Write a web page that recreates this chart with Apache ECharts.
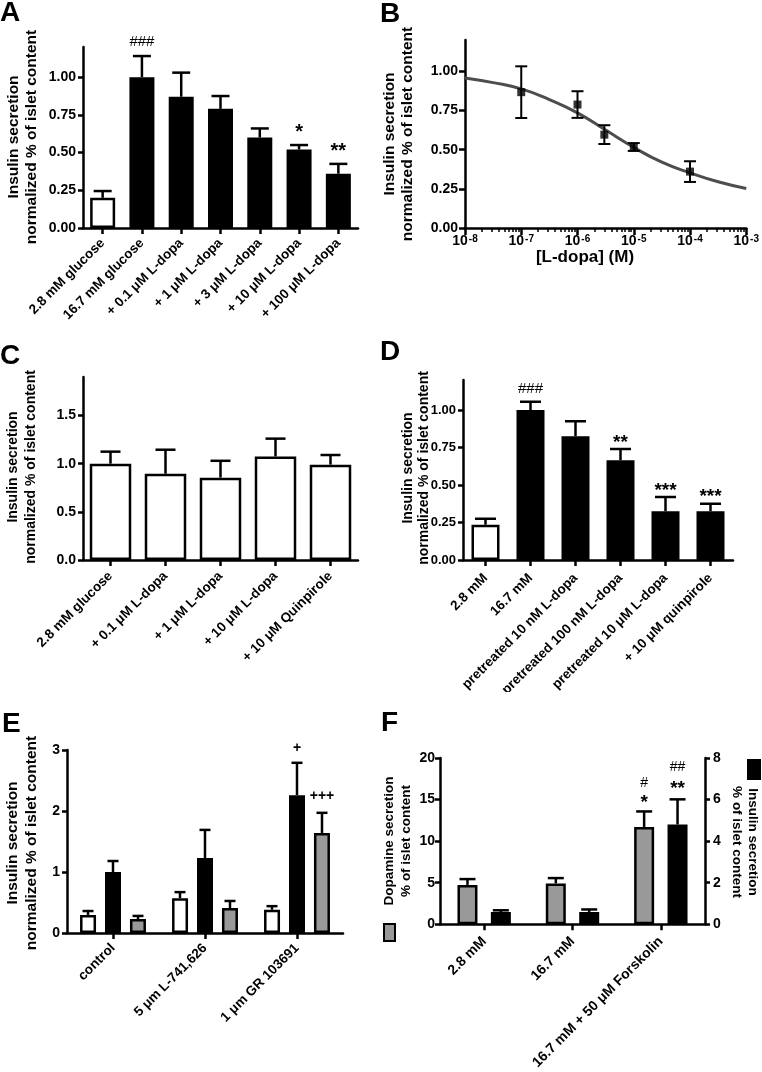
<!DOCTYPE html>
<html><head><meta charset="utf-8">
<script src="https://cdn.jsdelivr.net/npm/echarts@6/dist/echarts.min.js"></script>
<style>html,body{margin:0;padding:0;background:#fff}#c{width:762px;height:1072px}</style>
</head><body><div id="c"></div>
<script>
// ---------------- DATA ----------------
// Panel A
const catsA = ['2.8 mM glucose', '16.7 mM glucose', '+ 0.1 μM L-dopa', '+ 1 μM L-dopa', '+ 3 μM L-dopa', '+ 10 μM L-dopa', '+ 100 μM L-dopa'];
const meansA = [0.20, 1.00, 0.87, 0.79, 0.60, 0.52, 0.36];
const semA = [0.045, 0.14, 0.16, 0.085, 0.06, 0.03, 0.065];
const sigA = ['', '###', '', '', '', '*', '**'];
const ticksA = [0, 0.25, 0.5, 0.75, 1.0];

// Panel B
const concB = [1e-7, 1e-6, 3e-6, 1e-5, 1e-4];
const meansB = [0.867, 0.788, 0.596, 0.517, 0.36];
const semB = [0.165, 0.085, 0.06, 0.025, 0.066];
const fitConcB = [1e-8, 3.16e-8, 1e-7, 3.16e-7, 1e-6, 3.16e-6, 1e-5, 3.16e-5, 1e-4, 3.16e-4, 1e-3];
const fitValB = [0.958, 0.928, 0.888, 0.82, 0.735, 0.625, 0.515, 0.42, 0.352, 0.295, 0.252];
const ticksBy = [0, 0.25, 0.5, 0.75, 1.0];
const ticksBx = [1e-8, 1e-7, 1e-6, 1e-5, 1e-4, 1e-3];

// Panel C
const catsC = ['2.8 mM glucose', '+ 0.1 μM L-dopa', '+ 1 μM L-dopa', '+ 10 μM L-dopa', '+ 10 μM Quinpirole'];
const meansC = [1.00, 0.895, 0.855, 1.075, 0.99];
const semC = [0.125, 0.25, 0.175, 0.185, 0.10];
const ticksC = [0, 0.5, 1.0, 1.5];

// Panel D
const catsD = ['2.8 mM', '16.7 mM', 'pretreated 10 nM L-dopa', 'pretreated 100 nM L-dopa', 'pretreated 10 μM L-dopa', '+ 10 μM quinpirole'];
const meansD = [0.235, 1.00, 0.825, 0.665, 0.325, 0.325];
const semD = [0.04, 0.055, 0.10, 0.075, 0.095, 0.05];
const sigD = ['', '###', '', '**', '***', '***'];
const ticksD = [0, 0.25, 0.5, 0.75, 1.0];

// Panel E
const catsE = ['control', '5 μm L-741,626', '1 μm GR 103691'];
const openE = [0.295, 0.57, 0.38];
const semOpenE = [0.065, 0.10, 0.06];
const blackE = [1.00, 1.23, 2.26];
const semBlackE = [0.18, 0.46, 0.53];
const sigBlackE = ['', '', '+'];
const grayE = [0.23, 0.41, 1.64];
const semGrayE = [0.05, 0.115, 0.33];
const sigGrayE = ['', '', '+++'];
const ticksE = [0, 1, 2, 3];

// Panel F
const catsF = ['2.8 mM', '16.7 mM', '16.7 mM + 50 μM Forskolin'];
const dopF = [4.73, 4.91, 11.7];
const semDopF = [0.7, 0.64, 1.87];
const sigDopF = ['', '', '#\n*'];
const insF = [0.59, 0.59, 4.80];
const semInsF = [0.08, 0.12, 1.21];
const sigInsF = ['', '', '##\n**'];
const ticksFL = [0, 5, 10, 15, 20];
const ticksFR = [0, 2, 4, 6, 8];

// ---------------- STYLE / HELPERS ----------------
const FONT = '"Liberation Sans", Arial, Helvetica, sans-serif';
const BLACK = '#000', WHITE = '#fff', GRAY = '#999';
const LW = 2.5;

function valueAxis(gridIndex, max, ticks, decimals, o) {
  o = o || {};
  return {
    type: 'value', gridIndex: gridIndex, min: 0, max: max, position: o.position || 'left',
    axisLine: { show: true, onZero: false, lineStyle: { color: BLACK, width: LW } },
    axisTick: { show: true, length: o.tickLen || 5, customValues: ticks, lineStyle: { color: BLACK, width: LW } },
    axisLabel: { show: true, customValues: ticks, margin: o.margin || 7, fontSize: o.fs || 14, fontFamily: FONT, fontWeight: 'bold', color: BLACK,
      formatter: function (v) { return Number(v).toFixed(decimals); } },
    splitLine: { show: false }
  };
}
function categoryAxis(gridIndex, cats, o) {
  o = o || {};
  return {
    type: 'category', gridIndex: gridIndex, data: cats, boundaryGap: true,
    axisLine: { show: true, onZero: false, lineStyle: { color: BLACK, width: LW } },
    axisTick: { show: true, alignWithLabel: true, interval: 0, length: o.tickLen || 6, lineStyle: { color: BLACK, width: LW } },
    axisLabel: { interval: 0, rotate: 45, margin: o.margin || 8, fontSize: o.fs || 13, fontFamily: FONT, fontWeight: 'bold', color: BLACK },
    splitLine: { show: false }
  };
}
function barSeries(name, xi, yi, vals, colorFn, barWidth, barGap) {
  return {
    type: 'bar', name: name, xAxisIndex: xi, yAxisIndex: yi, silent: true, animation: false,
    barWidth: barWidth, barGap: barGap,
    data: vals.map(function (v, i) { return { value: v, itemStyle: { color: colorFn(i) } }; }),
    itemStyle: { borderColor: BLACK, borderWidth: LW }
  };
}
// error bars (+ significance marks) placed through the axes' own scales
function errSeries(xi, yi, xs, vals, sems, sigs, o) {
  return {
    type: 'custom', xAxisIndex: xi, yAxisIndex: yi, silent: true, animation: false, z: 5,
    data: vals.map(function (v, i) { return [xs ? xs[i] : i, v, v + sems[i], v - sems[i]]; }),
    renderItem: function (params, api) {
      const i = params.dataIndex;
      const pv = api.coord([api.value(0), api.value(1)]);
      const pt = api.coord([api.value(0), api.value(2)]);
      const x = pv[0] + (o.dx || 0);
      const cw = o.cap / 2;
      const ls = { stroke: BLACK, lineWidth: o.lw || LW };
      const ch = [
        { type: 'line', shape: { x1: x, y1: pv[1], x2: x, y2: pt[1] }, style: ls },
        { type: 'line', shape: { x1: x - cw, y1: pt[1], x2: x + cw, y2: pt[1] }, style: ls }
      ];
      if (o.both) {
        const pb = api.coord([api.value(0), api.value(3)]);
        ch.push({ type: 'line', shape: { x1: x, y1: pv[1], x2: x, y2: pb[1] }, style: ls });
        ch.push({ type: 'line', shape: { x1: x - cw, y1: pb[1], x2: x + cw, y2: pb[1] }, style: ls });
      }
      const s = sigs ? sigs[i] : '';
      if (s) {
        const lines = s.split('\n').reverse();
        lines.forEach(function (ln, k) {
          const star = ln.indexOf('*') >= 0;
          const hash = ln.indexOf('#') >= 0;
          const fs = star ? o.starFs : (hash ? o.hashFs : o.plusFs);
          const gap = star ? o.starGap : (hash ? o.hashGap : o.plusGap);
          const cy = pt[1] - (k === 0 ? gap : o.firstGap + k * o.lineStep);
          ch.push({ type: 'text', x: x, y: cy + (star ? 0.23 * fs : 0), style: {
            text: ln, fill: BLACK, fontFamily: FONT, fontSize: fs, fontWeight: hash ? 'normal' : 'bold',
            align: 'center', verticalAlign: 'middle' } });
        });
      }
      return { type: 'group', children: ch };
    }
  };
}
function rotTitle(text, x, y, fs, lh, rot) {
  return { type: 'text', x: x, y: y, rotation: rot, z: 10, silent: true,
    style: { text: text, fontFamily: FONT, fontWeight: 'bold', fontSize: fs, lineHeight: lh, fill: BLACK, align: 'center', verticalAlign: 'middle' } };
}
function letter(t, x, y) {
  return { type: 'text', x: x, y: y, z: 10, silent: true,
    style: { text: t, fontFamily: FONT, fontWeight: 'bold', fontSize: 28, fill: BLACK, align: 'left', verticalAlign: 'middle' } };
}

const minorB = [];
for (let e = -8; e < -3; e++) { for (let m = 2; m <= 9; m++) { minorB.push(m * Math.pow(10, e)); } }

const TITLE = 'Insulin secretion\nnormalized % of islet content';

const option = {
  animation: false,
  backgroundColor: '#fff',
  grid: [
    { left: 83, top: 47, width: 275, height: 181 },
    { left: 465, top: 40, width: 282, height: 188 },
    { left: 83, top: 377, width: 275, height: 183 },
    { left: 463, top: 380, width: 270, height: 180 },
    { left: 67, top: 750, width: 276, height: 183 },
    { left: 440, top: 758, width: 265, height: 176 }
  ],
  xAxis: [
    categoryAxis(0, catsA, { fs: 13.5, margin: 13 }),
    { type: 'log', gridIndex: 1, min: 1e-8, max: 1e-3, logBase: 10,
      axisLine: { show: true, onZero: false, lineStyle: { color: BLACK, width: LW } },
      axisTick: { show: true, length: 7, customValues: ticksBx, lineStyle: { color: BLACK, width: LW } },
      axisLabel: { customValues: ticksBx, margin: 6, color: BLACK,
        formatter: function (v) { const e = Math.round(Math.log(v) / Math.LN10); return '{b|10}{s|' + e + '}'; },
        rich: { b: { fontSize: 14, fontWeight: 'bold', fontFamily: FONT, color: BLACK },
                s: { fontSize: 10, fontWeight: 'bold', fontFamily: FONT, color: BLACK, verticalAlign: 'top', padding: [0, 0, 0, 1] } } },
      splitLine: { show: false } },
    { type: 'log', gridIndex: 1, min: 1e-8, max: 1e-3, logBase: 10, position: 'bottom',
      axisLine: { show: false }, axisLabel: { show: false }, splitLine: { show: false },
      axisTick: { show: true, length: 4, customValues: minorB, lineStyle: { color: BLACK, width: 1.5 } } },
    categoryAxis(2, catsC, { fs: 13.5, margin: 14 }),
    categoryAxis(3, catsD, { fs: 13.5, margin: 16 }),
    categoryAxis(4, catsE, { fs: 13.5, margin: 13 }),
    categoryAxis(5, catsF, { fs: 14, margin: 15 })
  ],
  yAxis: [
    valueAxis(0, 1.2, ticksA, 2, { fs: 14 }),
    valueAxis(1, 1.2, ticksBy, 2, { fs: 14, tickLen: 6 }),
    valueAxis(2, 1.9, ticksC, 1, { fs: 14 }),
    valueAxis(3, 1.2, ticksD, 2, { fs: 13 }),
    valueAxis(4, 3, ticksE, 0, { fs: 14 }),
    valueAxis(5, 20, ticksFL, 0, { fs: 14, margin: 5 }),
    valueAxis(5, 8, ticksFR, 0, { fs: 14, position: 'right', margin: 8 })
  ],
  series: [
    // A
    barSeries('A', 0, 0, meansA, function (i) { return i === 0 ? WHITE : BLACK; }, 25, '30%'),
    errSeries(0, 0, null, meansA, semA, sigA, { cap: 18, hashFs: 15, hashGap: 14, starFs: 20, starGap: 17.5 }),
    // B
    { type: 'line', name: 'fit', xAxisIndex: 1, yAxisIndex: 1, smooth: 0.5, showSymbol: false, silent: true,
      lineStyle: { color: '#4d4d4d', width: 3 }, data: fitConcB.map(function (x, i) { return [x, fitValB[i]]; }) },
    errSeries(1, 1, concB, meansB, semB, null, { cap: 12, both: true, lw: 2 }),
    { type: 'scatter', name: 'B', xAxisIndex: 1, yAxisIndex: 1, symbol: 'rect', symbolSize: 8, silent: true, z: 6,
      itemStyle: { color: BLACK }, data: concB.map(function (x, i) { return [x, meansB[i]]; }) },
    // C
    barSeries('C', 3, 2, meansC, function () { return WHITE; }, 41.5, '30%'),
    errSeries(3, 2, null, meansC, semC, null, { cap: 20 }),
    // D
    barSeries('D', 4, 3, meansD, function (i) { return i === 0 ? WHITE : BLACK; }, 28, '30%'),
    errSeries(4, 3, null, meansD, semD, sigD, { cap: 21, hashFs: 15, hashGap: 13, starFs: 19, starGap: 11 }),
    // E
    barSeries('E open', 5, 4, openE, function () { return WHITE; }, 16, '56%'),
    barSeries('E black', 5, 4, blackE, function () { return BLACK; }, 16, '56%'),
    barSeries('E gray', 5, 4, grayE, function () { return GRAY; }, 16, '56%'),
    errSeries(5, 4, null, openE, semOpenE, null, { cap: 11, dx: -25 }),
    errSeries(5, 4, null, blackE, semBlackE, sigBlackE, { cap: 11, dx: 0, plusFs: 14, plusGap: 15 }),
    errSeries(5, 4, null, grayE, semGrayE, sigGrayE, { cap: 11, dx: 25, plusFs: 14, plusGap: 17 }),
    // F
    barSeries('Dopamine secretion', 6, 5, dopF, function () { return GRAY; }, 20, '67%'),
    barSeries('Insulin secretion', 6, 6, insF, function () { return BLACK; }, 20, '67%'),
    errSeries(6, 5, null, dopF, semDopF, sigDopF, { cap: 16, dx: -16.7, starFs: 19, starGap: 13, hashFs: 14, hashGap: 13, firstGap: 13, lineStep: 15 }),
    errSeries(6, 6, null, insF, semInsF, sigInsF, { cap: 16, dx: 16.7, starFs: 19, starGap: 15, hashFs: 14, hashGap: 15, firstGap: 15, lineStep: 17 })
  ],
  graphic: [
    { type: 'rect', z: 20, silent: true, shape: { x: 385, y: 692, width: 377, height: 18 }, style: { fill: '#fff' } },
    letter('A', 0, 13), letter('B', 380, 14), letter('C', 0, 356), letter('D', 380, 352), letter('E', 2, 724), letter('F', 381, 723),
    rotTitle(TITLE, 22.5, 137, 15.5, 18, Math.PI / 2),
    rotTitle(TITLE, 399, 134, 15.5, 18, Math.PI / 2),
    rotTitle(TITLE, 22, 467, 14, 18, Math.PI / 2),
    rotTitle(TITLE, 416, 468, 14, 16, Math.PI / 2),
    rotTitle(TITLE, 22, 843, 15.5, 19, Math.PI / 2),
    rotTitle('Dopamine secretion\n% of islet content', 397.5, 841, 13.5, 17, Math.PI / 2),
    rotTitle('Insulin secretion\n% of islet content', 745, 842, 13.5, 16, -Math.PI / 2),
    { type: 'text', x: 585, y: 257, z: 10, silent: true,
      style: { text: '[L-dopa] (M)', fontFamily: FONT, fontWeight: 'bold', fontSize: 17, fill: BLACK, align: 'center', verticalAlign: 'middle' } },
    { type: 'rect', z: 10, silent: true, shape: { x: 384, y: 924, width: 11, height: 17 }, style: { fill: GRAY, stroke: BLACK, lineWidth: 2 } },
    { type: 'rect', z: 10, silent: true, shape: { x: 748, y: 760, width: 12, height: 19 }, style: { fill: BLACK, stroke: BLACK, lineWidth: 2 } }
  ]
};

const chart = echarts.init(document.getElementById('c'), null, { renderer: 'canvas', width: 762, height: 1072 });
chart.setOption(option);
</script></body></html>
